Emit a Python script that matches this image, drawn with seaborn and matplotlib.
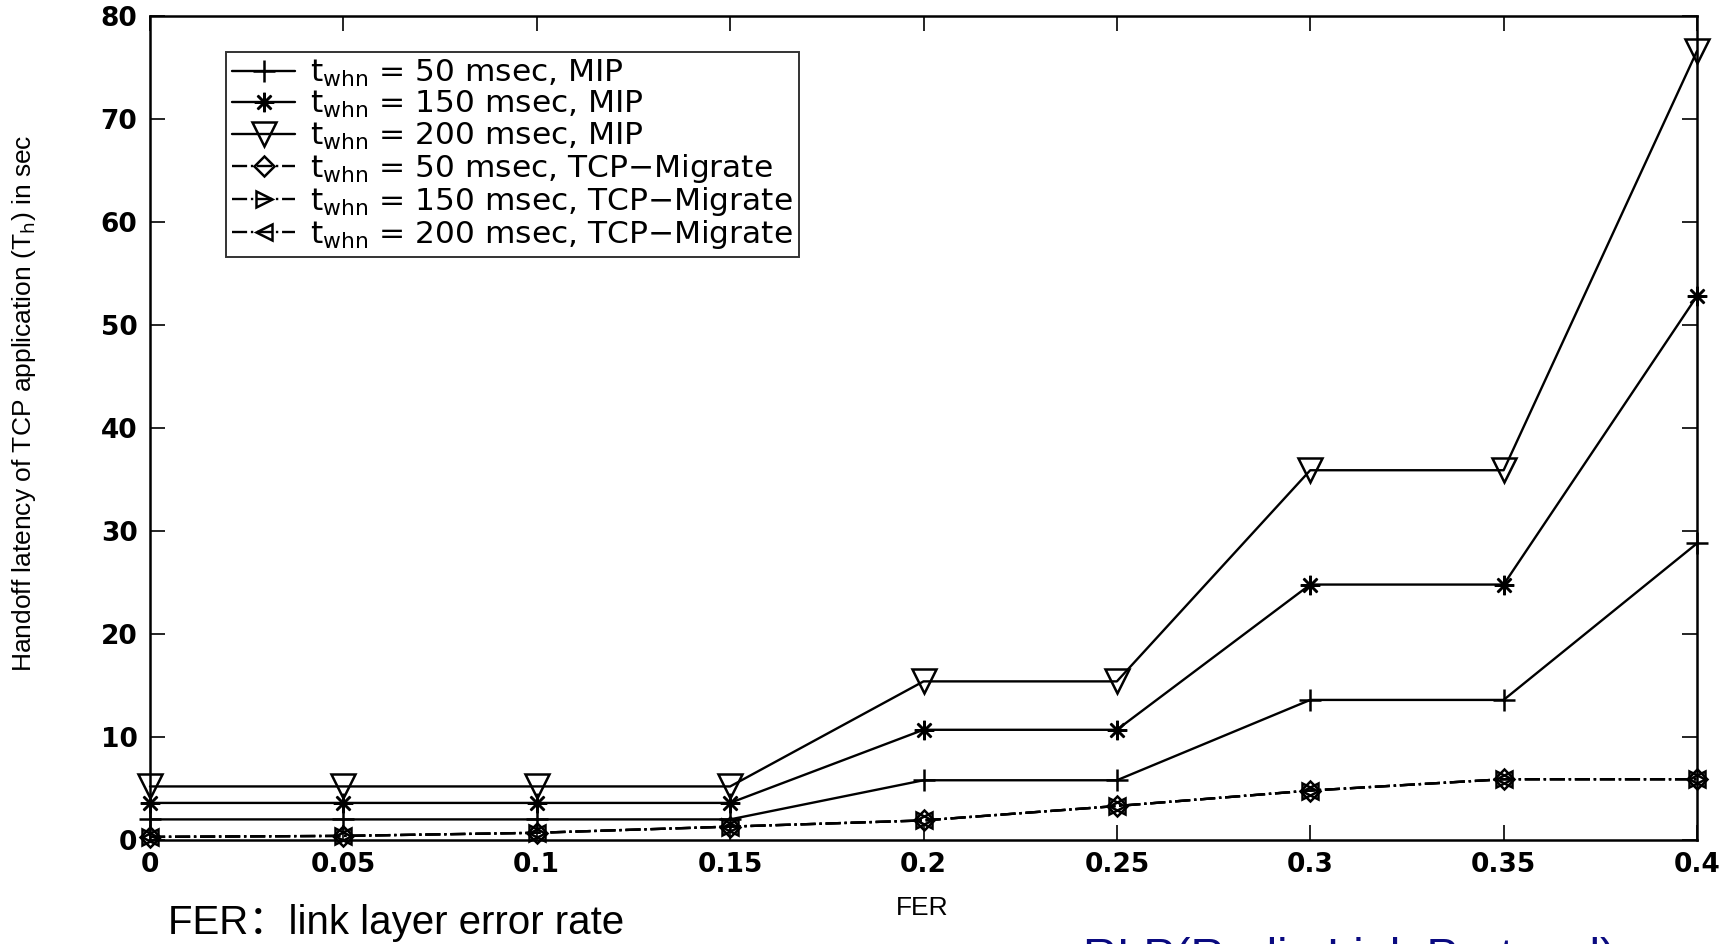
"""Handoff latency of TCP application vs FER (MIP vs TCP-Migrate)."""

import matplotlib
matplotlib.use("Agg")
import matplotlib.pyplot as plt
import seaborn as sns

sns.set_style("ticks")
plt.rcParams["font.family"] = ["DejaVu Sans", "Noto Sans CJK SC"]
plt.rcParams["mathtext.fontset"] = "custom"
plt.rcParams["mathtext.rm"] = "DejaVu Sans"
plt.rcParams["mathtext.it"] = "DejaVu Sans"
for k in ["text.color", "axes.labelcolor", "xtick.color", "ytick.color", "axes.edgecolor"]:
    plt.rcParams[k] = "black"

fer = [0, 0.05, 0.1, 0.15, 0.2, 0.25, 0.3, 0.35, 0.4]

mip_50 = [2.0, 2.0, 2.0, 2.0, 5.8, 5.8, 13.6, 13.6, 28.8]
mip_150 = [3.6, 3.6, 3.6, 3.6, 10.7, 10.7, 24.8, 24.8, 52.8]
mip_200 = [5.2, 5.2, 5.2, 5.2, 15.4, 15.4, 35.9, 35.9, 76.6]
tcp_50 = [0.3, 0.4, 0.7, 1.3, 1.9, 3.3, 4.8, 5.9, 5.9]
tcp_150 = [0.3, 0.4, 0.7, 1.3, 1.9, 3.3, 4.8, 5.9, 5.9]
tcp_200 = [0.3, 0.4, 0.7, 1.3, 1.9, 3.3, 4.8, 5.9, 5.9]

labels = [
    r"$t_{\mathrm{whn}}$ = 50 msec, MIP",
    r"$t_{\mathrm{whn}}$ = 150 msec, MIP",
    r"$t_{\mathrm{whn}}$ = 200 msec, MIP",
    r"$t_{\mathrm{whn}}$ = 50 msec, TCP$-$Migrate",
    r"$t_{\mathrm{whn}}$ = 150 msec, TCP$-$Migrate",
    r"$t_{\mathrm{whn}}$ = 200 msec, TCP$-$Migrate",
]

fig = plt.figure(figsize=(17.32, 9.44), dpi=100)
ax = fig.add_axes([150 / 1732, 1 - 840 / 944, 1547 / 1732, 824 / 944])

series = [
    (mip_50, "-", "+", 16),
    (mip_150, "-", (8, 2, 0), 14),
    (mip_200, "-", "v", 17),
    (tcp_50, "-.", "D", 10),
    (tcp_150, "-.", ">", 12),
    (tcp_200, "-.", "<", 12),
]
for lab, (yv, ls, mk, ms) in zip(labels, series):
    sns.lineplot(
        x=fer, y=yv, ax=ax, color="k", linestyle=ls, lw=1.7,
        marker=mk, markersize=ms, markerfacecolor="none",
        markeredgecolor="k", markeredgewidth=1.8,
        label=lab, estimator=None, sort=False, clip_on=False,
    )

ax.set_xlim(0, 0.4)
ax.set_ylim(0, 80)
ax.set_xticks(fer)
ax.set_xticklabels(["0", "0.05", "0.1", "0.15", "0.2", "0.25", "0.3", "0.35", "0.4"])
ax.set_yticks(range(0, 81, 10))
ax.tick_params(direction="in", length=11, width=1.2, top=True, right=True,
               labelsize=19, pad=9)
for t in ax.get_xticklabels() + ax.get_yticklabels():
    t.set_fontweight("bold")
for s in ax.spines.values():
    s.set_linewidth(1.8)
ax.set_xlabel("")
ax.set_ylabel("")

leg = ax.legend(
    loc="upper left", bbox_to_anchor=(76 / 1547, 788 / 824),
    borderaxespad=0, fontsize=22.5, frameon=True, fancybox=False,
    edgecolor="k", handlelength=2.0, labelspacing=0.0,
    handletextpad=0.5, borderpad=0.2,
)
leg.get_frame().set_linewidth(1.4)

narrow = ["Liberation Sans Narrow", "Liberation Sans", "DejaVu Sans"]
fig.text(24 / 1732, 1 - 403 / 944,
         r"Handoff latency of TCP application (T$_{\mathrm{h}}$) in sec",
         rotation=90, ha="center", va="center", fontsize=19, family=narrow)
fig.text(922 / 1732, 1 - 908 / 944, "FER", ha="center", va="center",
         fontsize=19, family=narrow)
fig.text(168 / 1732, 1 - 934 / 944, "FER：link layer error rate",
         ha="left", va="baseline", fontsize=29,
         family=["Liberation Sans", "Noto Sans CJK SC"])
fig.text(1083 / 1732, 1 - 937 / 944, "RLP(Radio Link Protocol)",
         ha="left", va="top", fontsize=34, color="#0a0a80",
         family=["Liberation Sans", "DejaVu Sans"])

fig.savefig("out.png", dpi=100)
